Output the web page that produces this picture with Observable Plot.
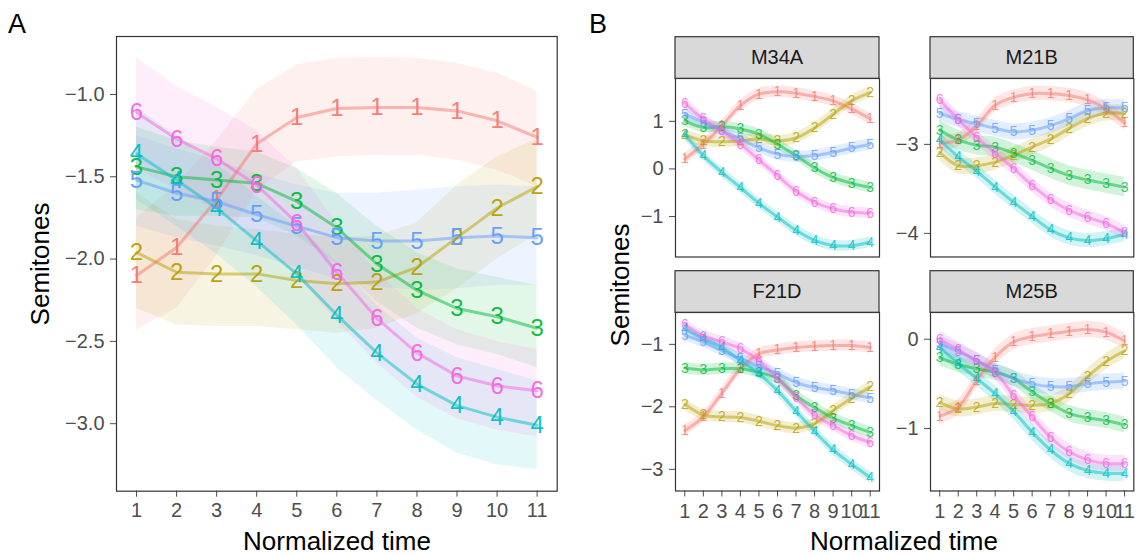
<!DOCTYPE html>
<html><head><meta charset="utf-8">
<script src="https://cdn.jsdelivr.net/npm/d3@7"></script>
<script src="https://cdn.jsdelivr.net/npm/@observablehq/plot@0.6"></script>
<style>
body{margin:0;background:#fff;}
#root{position:relative;width:1138px;height:555px;overflow:hidden;background:#fff;}
</style></head><body><div id="root"></div>
<script>
// ---------- data ----------
const times = [1,2,3,4,5,6,7,8,9,10,11];
const seriesNames = ["1","2","3","4","5","6"];
const seriesColors = ["#F8766D","#B79F00","#00BA38","#00BFC4","#619CFF","#F564E3"];
const facetNames = ["M34A","M21B","F21D","M25B"];
const ticksA = [-3.0,-2.5,-2.0,-1.5,-1.0];

// Panel A: mean per series
const a1 = [-2.10,-1.93,-1.64,-1.30,-1.14,-1.085,-1.08,-1.08,-1.10,-1.16,-1.26];
const a2 = [-1.96,-2.08,-2.09,-2.09,-2.13,-2.15,-2.14,-2.05,-1.87,-1.69,-1.56];
const a3 = [-1.44,-1.50,-1.52,-1.54,-1.65,-1.81,-2.03,-2.19,-2.30,-2.35,-2.42];
const a4 = [-1.36,-1.52,-1.69,-1.89,-2.09,-2.34,-2.57,-2.76,-2.89,-2.96,-3.01];
const a5 = [-1.52,-1.60,-1.65,-1.73,-1.80,-1.87,-1.89,-1.89,-1.87,-1.86,-1.87];
const a6 = [-1.11,-1.27,-1.39,-1.55,-1.78,-2.08,-2.36,-2.57,-2.71,-2.77,-2.80];
// Panel A: ribbon bounds
const a1hi = [-1.75,-1.55,-1.28,-0.97,-0.82,-0.78,-0.775,-0.78,-0.81,-0.87,-0.98];
const a1lo = [-2.43,-2.30,-1.98,-1.58,-1.41,-1.38,-1.37,-1.37,-1.40,-1.46,-1.56];
const a2hi = [-1.60,-1.76,-1.80,-1.82,-1.85,-1.87,-1.86,-1.78,-1.55,-1.38,-1.27];
const a2lo = [-2.30,-2.40,-2.41,-2.41,-2.43,-2.45,-2.42,-2.33,-2.18,-2.00,-1.85];
const a3hi = [-1.20,-1.28,-1.32,-1.35,-1.45,-1.60,-1.80,-1.96,-2.06,-2.11,-2.16];
const a3lo = [-1.70,-1.74,-1.74,-1.75,-1.86,-2.03,-2.26,-2.42,-2.52,-2.58,-2.66];
const a4hi = [-1.08,-1.25,-1.42,-1.62,-1.80,-2.02,-2.28,-2.48,-2.60,-2.67,-2.74];
const a4lo = [-1.64,-1.80,-1.97,-2.17,-2.40,-2.66,-2.86,-3.04,-3.18,-3.25,-3.28];
const a5hi = [-1.25,-1.33,-1.40,-1.48,-1.55,-1.60,-1.60,-1.58,-1.56,-1.55,-1.56];
const a5lo = [-1.80,-1.87,-1.92,-1.98,-2.05,-2.12,-2.17,-2.19,-2.18,-2.16,-2.16];
const a6hi = [-0.78,-0.95,-1.08,-1.22,-1.45,-1.78,-2.08,-2.30,-2.43,-2.50,-2.55];
const a6lo = [-1.45,-1.58,-1.70,-1.88,-2.10,-2.38,-2.63,-2.84,-2.97,-3.04,-3.08];

// Panel B: M34A
const m34a_1 = [0.21,0.52,0.91,1.33,1.57,1.62,1.59,1.52,1.43,1.26,1.05];
const m34a_2 = [0.72,0.59,0.57,0.59,0.63,0.59,0.65,0.86,1.15,1.43,1.61];
const m34a_3 = [1.01,0.87,0.89,0.84,0.73,0.52,0.28,0.02,-0.18,-0.30,-0.39];
const m34a_4 = [0.73,0.28,-0.07,-0.39,-0.72,-1.01,-1.29,-1.50,-1.61,-1.61,-1.54];
const m34a_5 = [1.15,0.98,0.80,0.63,0.44,0.31,0.26,0.28,0.35,0.44,0.52];
const m34a_6 = [1.38,1.05,0.80,0.52,0.19,-0.14,-0.47,-0.70,-0.84,-0.91,-0.93];
const m34a_se = [0.12,0.12,0.11,0.11,0.12,0.11];
// Panel B: M21B
const m21b_1 = [-2.99,-2.95,-2.79,-2.56,-2.47,-2.43,-2.43,-2.45,-2.50,-2.60,-2.76];
const m21b_2 = [-3.09,-3.24,-3.24,-3.20,-3.12,-3.03,-2.94,-2.82,-2.71,-2.65,-2.65];
const m21b_3 = [-2.84,-2.95,-3.01,-3.03,-3.10,-3.18,-3.27,-3.35,-3.40,-3.44,-3.48];
const m21b_4 = [-2.95,-3.14,-3.30,-3.48,-3.65,-3.81,-3.96,-4.05,-4.08,-4.06,-4.01];
const m21b_5 = [-2.65,-2.72,-2.77,-2.82,-2.86,-2.84,-2.79,-2.71,-2.62,-2.59,-2.59];
const m21b_6 = [-2.50,-2.72,-2.92,-3.10,-3.27,-3.46,-3.62,-3.74,-3.82,-3.89,-3.99];
const m21b_se = [0.08,0.09,0.11,0.08,0.09,0.08];
// Panel B: F21D
const f21d_1 = [-2.38,-2.16,-1.78,-1.39,-1.15,-1.09,-1.05,-1.03,-1.02,-1.02,-1.05];
const f21d_2 = [-1.96,-2.13,-2.16,-2.17,-2.23,-2.30,-2.34,-2.27,-2.06,-1.86,-1.68];
const f21d_3 = [-1.38,-1.41,-1.39,-1.39,-1.45,-1.55,-1.82,-2.01,-2.18,-2.30,-2.41];
const f21d_4 = [-0.75,-0.91,-1.05,-1.26,-1.47,-1.74,-2.07,-2.39,-2.69,-2.92,-3.13];
const f21d_5 = [-0.86,-0.96,-1.10,-1.23,-1.35,-1.47,-1.61,-1.69,-1.74,-1.80,-1.86];
const f21d_6 = [-0.69,-0.87,-0.96,-1.07,-1.26,-1.55,-1.85,-2.13,-2.30,-2.46,-2.57];
const f21d_se = [0.09,0.09,0.09,0.09,0.09,0.09];
// Panel B: M25B
const m25b_1 = [-0.86,-0.76,-0.46,-0.20,-0.03,0.03,0.06,0.09,0.11,0.08,-0.02];
const m25b_2 = [-0.71,-0.78,-0.76,-0.72,-0.73,-0.74,-0.72,-0.61,-0.42,-0.25,-0.13];
const m25b_3 = [-0.21,-0.28,-0.33,-0.37,-0.44,-0.59,-0.72,-0.83,-0.88,-0.91,-0.96];
const m25b_4 = [-0.09,-0.27,-0.44,-0.61,-0.81,-1.04,-1.24,-1.39,-1.47,-1.50,-1.50];
const m25b_5 = [-0.05,-0.14,-0.24,-0.35,-0.44,-0.50,-0.53,-0.53,-0.50,-0.48,-0.47];
const m25b_6 = [0.00,-0.12,-0.24,-0.37,-0.63,-0.87,-1.10,-1.26,-1.35,-1.39,-1.39];
const m25b_se = [0.09,0.09,0.09,0.09,0.09,0.09];

const ticksM34A = [-1,0,1];
const ticksM21B = [-4,-3];
const ticksF21D = [-3,-2,-1];
const ticksM25B = [-1,0];

// ---------- build tables ----------
const FONT = '"Liberation Sans", Arial, Helvetica, sans-serif';
function tableA() {
  const means = [a1,a2,a3,a4,a5,a6], los = [a1lo,a2lo,a3lo,a4lo,a5lo,a6lo], his = [a1hi,a2hi,a3hi,a4hi,a5hi,a6hi];
  return seriesNames.flatMap((s,i) => times.map((t,j) => ({t, s, v: means[i][j], lo: los[i][j], hi: his[i][j]})));
}
function tableB(means, se) {
  return seriesNames.flatMap((s,i) => times.map((t,j) => ({t, s, v: means[i][j], lo: means[i][j]-se[i], hi: means[i][j]+se[i]})));
}

const root = document.getElementById("root");

function panel(o) {
  const ml = 90, mr = 2, mt = 2, mb = o.showX ? 40 : 2;
  const svg = Plot.plot({
    width: o.w + ml + mr, height: o.h + mt + mb,
    marginLeft: ml, marginRight: mr, marginTop: mt, marginBottom: mb,
    style: {fontFamily: FONT, fontSize: o.tickFont + "px", color: "#4d4d4d", background: "transparent", overflow: "visible"},
    x: {domain: [0.5, 11.5], ticks: times, tickFormat: d => String(d), tickSize: 6, tickPadding: o.xPad, label: null, axis: o.showX ? "bottom" : null},
    y: {domain: o.yDomain, ticks: o.yTicks, tickFormat: o.yFormat, tickSize: 6, tickPadding: o.yPad, label: null},
    color: {domain: seriesNames, range: seriesColors},
    marks: [
      Plot.areaY(o.data, {x: "t", y1: "lo", y2: "hi", fill: "s", z: "s", fillOpacity: o.ribbonOpacity, curve: o.curve}),
      Plot.line(o.data, {x: "t", y: "v", stroke: "s", z: "s", strokeWidth: o.lineWidth, strokeOpacity: 0.5, curve: o.curve}),
      Plot.text(o.data, {x: "t", y: "v", text: "s", fill: "s", fontSize: o.textSize, fillOpacity: o.textOpacity, fontFamily: FONT}),
      Plot.frame({stroke: "#333", strokeWidth: 1.2})
    ]
  });
  svg.style.position = "absolute";
  svg.style.left = (o.left - ml) + "px";
  svg.style.top = (o.top - mt) + "px";
  root.appendChild(svg);
}

// Panel A
panel({data: tableA(), left: 116, top: 36, w: 440.7, h: 454.7, yDomain: [-3.41, -0.648],
  yTicks: ticksA, yFormat: d3.format(".1f"), showX: true, tickFont: 20, xPad: 6, yPad: 6,
  ribbonOpacity: 0.11, lineWidth: 3, textSize: 24, textOpacity: 0.95, curve: "linear"});

// Panel B facets
const fOpts = {w: 204, h: 178.5, tickFont: 20, xPad: 7, yPad: 6, ribbonOpacity: 0.18, lineWidth: 3, textSize: 14, textOpacity: 0.8, curve: "catmull-rom", yFormat: d3.format("d")};
panel({...fOpts, data: tableB([m34a_1,m34a_2,m34a_3,m34a_4,m34a_5,m34a_6], m34a_se), left: 675, top: 78.3, yDomain: [-1.85, 1.9], yTicks: ticksM34A, showX: false});
panel({...fOpts, data: tableB([m21b_1,m21b_2,m21b_3,m21b_4,m21b_5,m21b_6], m21b_se), left: 930, top: 78.3, w: 203.3, yDomain: [-4.265, -2.26], yTicks: ticksM21B, showX: false});
panel({...fOpts, data: tableB([f21d_1,f21d_2,f21d_3,f21d_4,f21d_5,f21d_6], f21d_se), left: 675, top: 312.3, yDomain: [-3.347, -0.49], yTicks: ticksF21D, showX: true});
panel({...fOpts, data: tableB([m25b_1,m25b_2,m25b_3,m25b_4,m25b_5,m25b_6], m25b_se), left: 930, top: 312.3, w: 203.3, yDomain: [-1.699, 0.299], yTicks: ticksM25B, showX: true});

// ---------- overlay text: labels, titles, strips ----------
const ov = d3.select(root).append("svg").attr("width", 1138).attr("height", 555)
  .style("position", "absolute").style("left", 0).style("top", 0).style("pointer-events", "none")
  .style("font-family", FONT);
ov.append("text").attr("x", 8).attr("y", 33).attr("font-size", 27).attr("fill", "#000").text("A");
ov.append("text").attr("x", 589).attr("y", 33).attr("font-size", 27).attr("fill", "#000").text("B");
ov.append("text").attr("transform", "translate(49,264) rotate(-90)").attr("text-anchor", "middle").attr("font-size", 26).attr("fill", "#000").text("Semitones");
ov.append("text").attr("transform", "translate(629,285) rotate(-90)").attr("text-anchor", "middle").attr("font-size", 26).attr("fill", "#000").text("Semitones");
ov.append("text").attr("x", 337).attr("y", 550).attr("text-anchor", "middle").attr("font-size", 26).attr("fill", "#000").text("Normalized time");
ov.append("text").attr("x", 904).attr("y", 550).attr("text-anchor", "middle").attr("font-size", 26).attr("fill", "#000").text("Normalized time");
const strips = [
  {name: facetNames[0], x: 675, y: 36.7, w: 204},
  {name: facetNames[1], x: 930, y: 36.7, w: 203.3},
  {name: facetNames[2], x: 675, y: 270.7, w: 204},
  {name: facetNames[3], x: 930, y: 270.7, w: 203.3}
];
for (const s of strips) {
  ov.append("rect").attr("x", s.x).attr("y", s.y).attr("width", s.w).attr("height", 41.6)
    .attr("fill", "#d9d9d9").attr("stroke", "#333").attr("stroke-width", 1.2);
  ov.append("text").attr("x", s.x + s.w / 2).attr("y", s.y + 27.5).attr("text-anchor", "middle")
    .attr("font-size", 20).attr("fill", "#1a1a1a").text(s.name);
}
</script></body></html>
